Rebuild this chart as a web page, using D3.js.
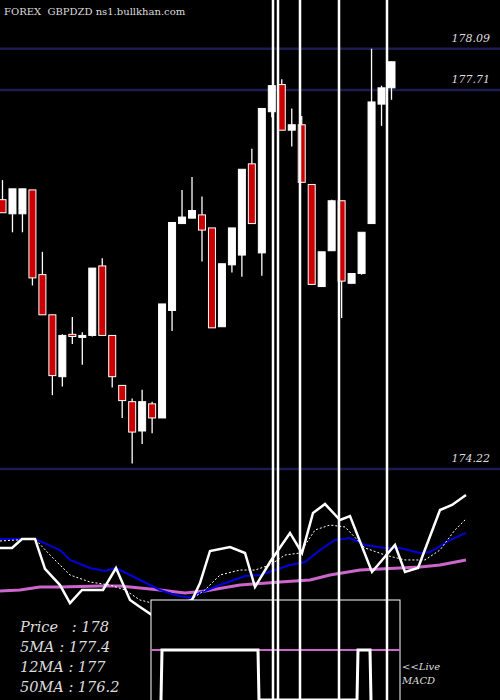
<!DOCTYPE html><html><head><meta charset="utf-8">
<script src="https://cdn.jsdelivr.net/npm/d3@7"></script>
<style>body{margin:0;background:#000} text{white-space:pre}</style></head><body><svg id="c" width="500" height="700"></svg>
<script>
const opens  = [176.70,176.57,176.57,176.79,176.01,175.64,175.07,175.46,175.45,175.45,176.09,175.45,174.99,174.84,174.57,174.82,174.69,175.68,176.48,176.53,176.56,176.44,175.53,176.10,176.19,177.03,176.21,177.51,177.76,177.34,177.39,176.84,175.90,176.23,176.69,175.93,176.02,176.48,177.58,177.73];
const closes = [176.58,176.80,176.80,175.98,175.64,175.08,175.45,175.44,175.45,176.07,175.45,175.07,174.85,174.56,174.84,174.69,175.74,176.49,176.54,176.60,176.42,175.52,176.11,176.44,176.98,176.48,177.54,177.75,177.34,177.39,176.86,175.92,176.22,176.69,175.95,176.02,176.40,177.60,177.73,177.97];
const highs  = [176.88,176.80,176.80,176.79,176.22,175.64,175.46,175.62,175.48,176.07,176.16,175.45,174.99,174.87,174.95,174.84,175.74,176.49,176.79,176.91,176.73,176.44,176.11,176.44,176.98,177.17,177.54,177.75,177.81,177.54,177.47,176.84,176.22,176.70,176.69,176.02,176.40,178.09,177.75,177.97];
const lows   = [176.58,176.40,176.40,175.91,175.64,174.90,174.98,175.37,175.18,175.44,175.45,174.97,174.69,174.27,174.45,174.55,174.69,175.49,176.48,176.53,176.13,175.52,175.53,176.03,175.99,176.48,176.00,177.46,177.34,177.19,176.86,175.92,175.90,176.23,175.61,175.93,176.01,176.48,177.38,177.62];
const levels = [178.09,177.71,174.22];
const vlines = [273,278,300,339,387];
const priceX = [0,12,22,35,45,60,70,82,103,116,130,140,152,192,200,210,230,245,255,270,290,302,313,325,340,350,372,395,405,418,440,452,466];
const priceV = [51.7,51.7,59.2,59.2,34.2,20.8,5.8,16.7,16.7,35,8.3,2.5,-4.2,8.3,22.5,49.2,52.5,47.5,19.2,40,64.2,47.5,80.8,88.3,75,78.3,31.7,54.2,31.7,35,83.3,87.5,95.8];
const blueX = [0,22,35,60,70,90,105,116,140,160,175,190,200,220,245,260,275,290,305,320,335,350,365,385,400,420,430,450,466];
const blueV = [59.2,59.2,59.2,50,41.7,35,32.5,35,25,16.7,12.5,10,14.2,20.8,28.3,29.2,33.3,37.5,40,50,58.3,60,54.2,51.7,51.7,47.5,48.3,58.3,64.2];
const dotX = [0,35,50,70,90,110,125,140,160,190,205,220,240,255,270,285,300,315,330,345,365,385,405,425,440,455,466];
const dotV = [57.5,59.2,45.8,29.2,23.3,20.8,16.7,8.3,4.2,8.3,16.7,29.2,33.3,33.3,37.5,45.8,47.5,66.7,70.8,69.2,51.7,45.8,41.7,41.7,50,66.7,75.8];
const magX = [0,20,40,60,100,120,140,160,185,205,240,280,310,330,360,380,400,420,440,466];
const magV = [15.8,16.7,19.2,19.2,20,20,18.3,16.7,14.2,15.8,20.8,23.3,25,29.2,33.3,34.2,35,35.8,37.5,41.7];
const macdX = [161,162,258,259,357,358,370,371];
const macdV = [0,1,1,0,0,1,1,0];
const legend = ["Price   : 178","5MA : 177.4","12MA : 177","50MA : 176.2"];

const svg = d3.select("#c");
svg.append("rect").attr("width",500).attr("height",700).attr("fill","#000");
const y = d3.scaleLinear().domain([174.22,177.71]).range([469,90]);
const x = d3.scaleLinear().domain([0,39]).range([2.5,391.5]);
const xi = d3.scaleLinear().domain([0,500]).range([0,500]);
const yi = d3.scaleLinear().domain([0,100]).range([610,490]);
const ym = d3.scaleLinear().domain([0,1]).range([700,650]);

svg.selectAll(".lv").data(levels).join("line").attr("x1",0).attr("x2",500)
 .attr("y1",d=>y(d)).attr("y2",d=>y(d)).attr("stroke","#1c1c50").attr("stroke-width",2.5);
svg.selectAll(".lt").data(levels).join("text").attr("x",490).attr("y",d=>y(d)-7).attr("text-anchor","end")
 .attr("fill","#ddd").attr("font-family","DejaVu Serif").attr("font-style","italic").attr("font-size",11).text(d=>d.toFixed(2));
svg.append("text").attr("x",4).attr("y",15).attr("fill","#ddd").attr("font-family","DejaVu Serif").attr("font-size",10).text("FOREX  GBPDZD ns1.bullkhan.com");

const idx = d3.range(opens.length);
svg.selectAll(".w").data(idx).join("line").attr("x1",i=>x(i)).attr("x2",i=>x(i))
 .attr("y1",i=>y(highs[i])).attr("y2",i=>y(lows[i])).attr("stroke","#fff").attr("stroke-width",1.3);
svg.selectAll(".b").data(idx).join("rect").attr("x",i=>x(i)-3.5).attr("width",7)
 .attr("y",i=>y(Math.max(opens[i],closes[i]))).attr("height",i=>Math.max(2,Math.abs(y(opens[i])-y(closes[i]))))
 .attr("fill",i=>closes[i]<opens[i]?"#cc0000":"#fff").attr("stroke","#fff").attr("stroke-width",1);

function ln(xs,vs,col,w,dash){
 svg.append("path").attr("d",d3.line().x((d,i)=>xi(xs[i])).y(d=>yi(d))(vs)).attr("fill","none")
  .attr("stroke",col).attr("stroke-width",w).attr("stroke-dasharray",dash||null);
}
ln(magX,magV,"#cc66cc",3);
ln(blueX,blueV,"#0000dd",2);
ln(dotX,dotV,"#fff",1,"2,2");
ln(priceX,priceV,"#fff",2.5);

svg.append("rect").attr("x",151).attr("y",600).attr("width",249).attr("height",110).attr("fill","#000").attr("stroke","#fff").attr("stroke-width",1);
svg.append("line").attr("x1",151).attr("x2",400).attr("y1",650).attr("y2",650).attr("stroke","#cc66cc").attr("stroke-width",2);
svg.append("path").attr("d",d3.line().x((d,i)=>xi(macdX[i])).y(d=>ym(d))(macdV)).attr("fill","none").attr("stroke","#fff").attr("stroke-width",3);

svg.selectAll(".vl").data(vlines).join("line").attr("x1",d=>d).attr("x2",d=>d).attr("y1",0).attr("y2",700).attr("stroke","#fff").attr("stroke-width",2.5);

svg.selectAll(".lg").data(legend).join("text").attr("x",20).attr("y",(d,i)=>632+i*20)
 .attr("fill","#ddd").attr("font-family","DejaVu Serif").attr("font-style","italic").attr("font-size",14.5).text(d=>d);
svg.append("text").attr("x",402).attr("y",670).attr("fill","#ddd").attr("font-family","DejaVu Serif").attr("font-style","italic").attr("font-size",10).text("<<Live");
svg.append("text").attr("x",402).attr("y",684).attr("fill","#ddd").attr("font-family","DejaVu Serif").attr("font-style","italic").attr("font-size",10).text("MACD");
</script></body></html>
